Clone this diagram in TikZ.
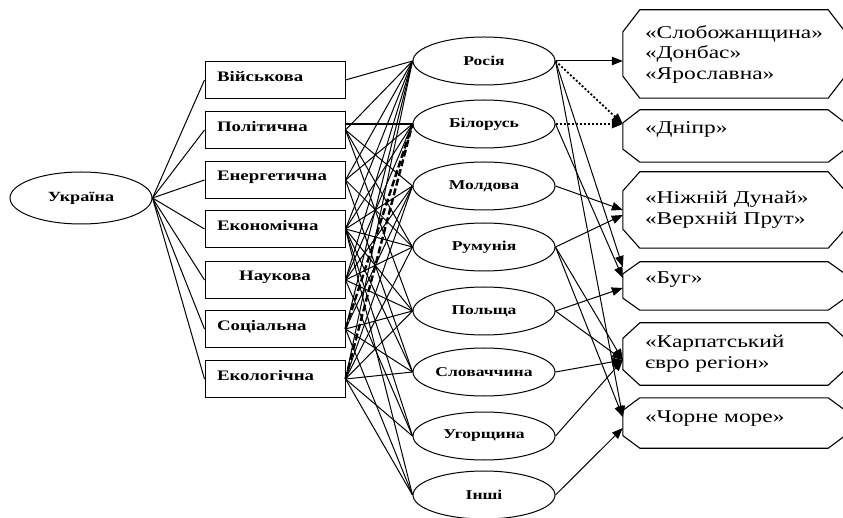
\documentclass[tikz,border=0pt]{standalone}
\usepackage{fontspec}
\newfontfamily\diagfont{Liberation Serif}[FakeStretch=1.3]
\usepackage{tikz}
\usetikzlibrary{arrows.meta,shapes.geometric,calc}
\tikzset{
x=1pt, y=-1pt, % pixel-like units, y grows downwards
every node/.style={inner sep=0pt},
sphere/.style={draw, line width=1pt, rectangle, minimum width=140pt, minimum height=37pt, text width=116pt, align=left, text depth=8pt, font=\diagfont\bfseries\fontsize{14.5}{16}\selectfont}, % the kinds of cooperation
country/.style={draw, line width=1pt, ellipse, minimum width=142pt, minimum height=48pt, font=\diagfont\bfseries\fontsize{13.5}{15}\selectfont}, % the neighbours
region/.style={minimum width=222pt, text width=178pt, align=left, font=\diagfont\fontsize{18}{20.5}\selectfont}, % the euroregions
link/.style={line width=1pt},
tip/.style={-{Triangle[length=11pt,width=8.5pt]}},
dotline/.style={line width=1.8pt, dash pattern=on 2pt off 2pt},
dashline/.style={line width=2.4pt, dash pattern=on 7pt off 3pt}
}
\begin{document}
\begin{tikzpicture}
    \useasboundingbox (0,0) rectangle (843,518);
    % left part
    \node [country, minimum height=52pt, font=\diagfont\bfseries\fontsize{14}{16}\selectfont] (ukr) at (81,198) {Україна};
    \node [sphere] (vij) at (275,80) {Військова};
    \node [sphere] (polit) at (275,130) {Політична};
    \node [sphere] (ener) at (275,180) {Енергетична};
    \node [sphere] (ekon) at (275,229) {Економічна};
    \node [sphere, align=center] (nauk) at (275,280) {Наукова};
    \node [sphere] (soc) at (275,329) {Соціальна};
    \node [sphere] (ekol) at (275,379) {Екологічна};
    % countries
    \node [country] (ros) at (484,61) {Росія};
    \node [country] (bil) at (484,124) {Білорусь};
    \node [country] (mold) at (484,186) {Молдова};
    \node [country] (rum) at (484,247) {Румунія};
    \node [country] (polsh) at (484,311) {Польща};
    \node [country] (slov) at (484,372) {Словаччина};
    \node [country] (uhor) at (484,436) {Угорщина};
    \node [country] (inshi) at (484,495) {Інші};
    % euroregions
    \node [region, minimum height=88pt] (slob) at (734,54) {«Слобожанщина»\\«Донбас»\\«Ярославна»};
    \node [region, minimum height=52pt, text depth=16pt] (dnipr) at (734,136) {«Дніпр»};
    \node [region, minimum height=76pt] (dunai) at (734,210) {«Ніжній Дунай»\\«Верхній Прут»};
    \node [region, minimum height=48pt, text depth=16pt] (buh) at (734,286) {«Буг»};
    \node [region, minimum height=62pt] (karp) at (734,354) {«Карпатський\\євро регіон»};
    \node [region, minimum height=50pt, text depth=13pt] (chorne) at (734,423) {«Чорне море»};
    \foreach \r in {slob,dnipr,dunai,buh,karp,chorne}
      \draw [line width=1.1pt] ($(\r.north west)+(17,0)$) -- ($(\r.north east)+(-17,0)$)
        -- ($(\r.north east)!0.25!(\r.south east)$) -- ($(\r.south east)!0.25!(\r.north east)$)
        -- ($(\r.south east)+(-17,0)$) -- ($(\r.south west)+(17,0)$)
        -- ($(\r.south west)!0.25!(\r.north west)$) -- ($(\r.north west)!0.25!(\r.south west)$) -- cycle;
    % Ukraine to the spheres
    \foreach \s in {vij,polit,ener,ekon,nauk,soc,ekol}
      \draw [link] (ukr.east) -- (\s.west);
    % spheres to countries
    \foreach \s/\c in {vij/ros, polit/ros, polit/mold, polit/rum, polit/polsh,
        ener/ros, ener/bil, ener/rum, ener/slov,
        ekon/ros, ekon/bil, ekon/mold, ekon/rum, ekon/polsh, ekon/slov, ekon/uhor, ekon/inshi,
        nauk/ros, nauk/bil, nauk/mold, nauk/rum, nauk/polsh, nauk/uhor,
        soc/ros, soc/mold, soc/polsh, soc/slov, soc/inshi,
        ekol/ros, ekol/mold, ekol/rum, ekol/polsh, ekol/slov, ekol/uhor, ekol/inshi}
      \draw [link] (\s.east) -- (\c.west);
    \draw [line width=2.8pt] (polit.east |- bil.west) -- (bil.west);
    \draw [dashline] (soc.east) -- (bil.west);
    \draw [dashline] (ekol.east) -- (bil.west);
    % countries to euroregions
    \draw [link, tip] (ros.east) -- (slob.west |- ros.east);
    \draw [dotline, tip] (ros.east) -- (dnipr.west |- bil.east);
    \draw [dotline, tip] (bil.east) -- (dnipr.west |- bil.east);
    \draw [link, tip] (ros.east) -- ($(buh.west)+(0,-19)$);
    \draw [link, tip] (bil.east) -- ($(buh.west)+(0,-8)$);
    \draw [link, tip] (polsh.east) -- ($(buh.west)+(0,2)$);
    \draw [link, tip] (mold.east) -- (dunai.west);
    \draw [link, tip] (rum.east) -- ($(dunai.west)+(0,5)$);
    \foreach \c in {rum,polsh,slov,uhor}
      \draw [link, tip] (\c.east) -- ($(karp.west)+(0,6)$);
    \draw [link, tip] (ros.east) -- ($(chorne.west)+(0,-6)$);
    \draw [link, tip] (rum.east) -- ($(chorne.west)+(0,-6)$);
    \draw [link, tip] (inshi.east) -- ($(chorne.west)+(0,5)$);
\end{tikzpicture}
\end{document}
